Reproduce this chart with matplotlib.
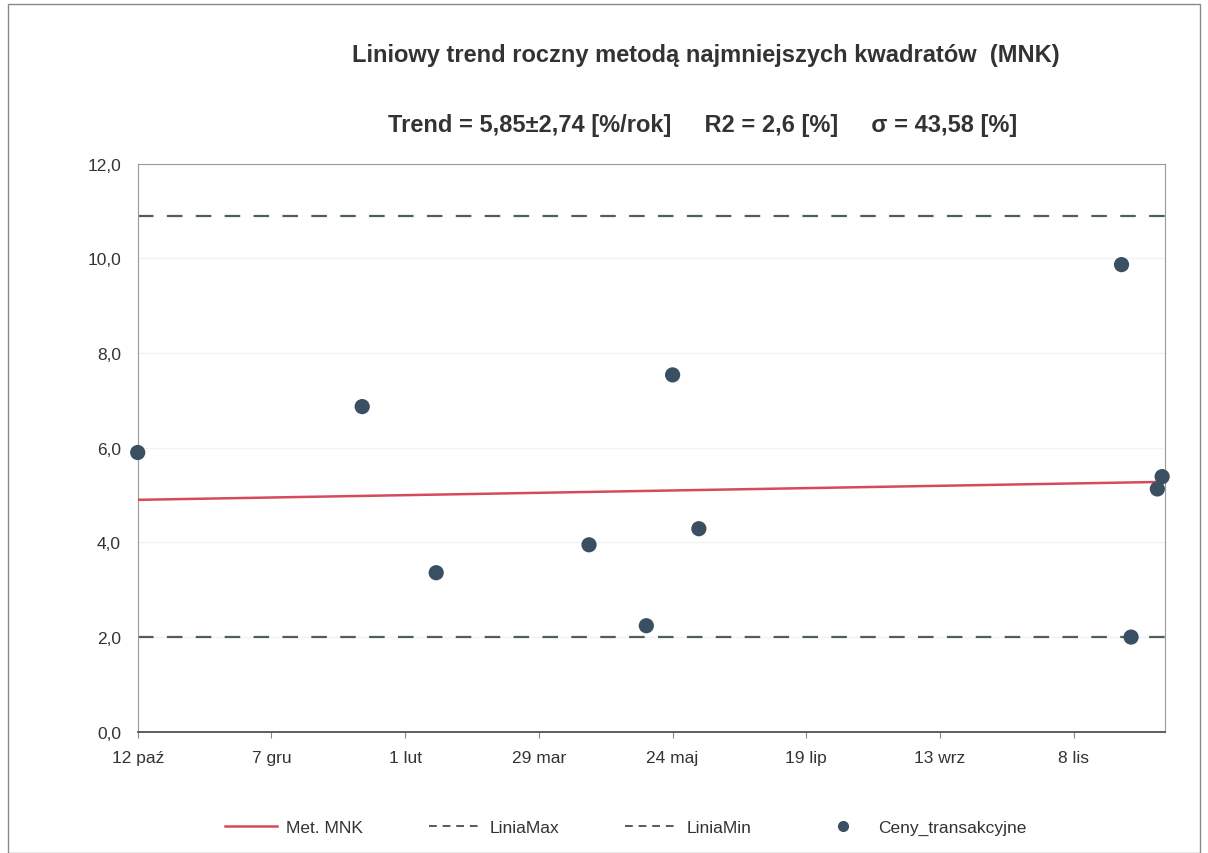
import matplotlib
matplotlib.use("Agg")
import matplotlib.pyplot as plt
import matplotlib.dates as mdates
from matplotlib.lines import Line2D
from matplotlib.patches import Rectangle
import numpy as np

plt.rcParams["font.family"] = ["Liberation Sans Narrow", "Liberation Sans", "DejaVu Sans"]

# ---- data ------------------------------------------------------------
price_dates = ["2012-10-12", "2013-01-14", "2013-02-14", "2013-04-19",
               "2013-05-13", "2013-05-24", "2013-06-04", "2013-11-28",
               "2013-12-02", "2013-12-13", "2013-12-15"]
price_values = [5.9, 6.87, 3.36, 3.95, 2.24, 7.54, 4.29, 9.87, 2.0, 5.13, 5.39]

trend_dates = ["2012-10-12", "2013-12-16"]
trend_values = [4.90, 5.28]

linia_max = 10.9
linia_min = 2.0

tick_dates = ["2012-10-12", "2012-12-07", "2013-02-01", "2013-03-29",
              "2013-05-24", "2013-07-19", "2013-09-13", "2013-11-08"]
tick_labels = ["12 paź", "7 gru", "1 lut", "29 mar",
               "24 maj", "19 lip", "13 wrz", "8 lis"]

x_start, x_end = "2012-10-12", "2013-12-16"

title = "Liniowy trend roczny metodą najmniejszych kwadratów  (MNK)"
subtitle = "Trend = 5,85±2,74 [%/rok]     R2 = 2,6 [%]     σ = 43,58 [%]"

# ---- colours ---------------------------------------------------------
RED = "#d64a5c"
DASH = "#4f5f55"
DOT = "#3b4f63"
TEXT = "#333333"

to_num = lambda ds: mdates.datestr2num(ds)

fig = plt.figure(figsize=(12.08, 8.54), dpi=100)
ax = fig.add_axes([0.114, 0.142, 0.850, 0.665])

ax.plot(to_num(trend_dates), trend_values, color=RED, lw=1.8, zorder=3)
ax.axhline(linia_max, color=DASH, lw=1.6, ls=(0, (7, 6)), zorder=2)
ax.axhline(linia_min, color=DASH, lw=1.6, ls=(0, (7, 6)), zorder=2)
ax.scatter(to_num(price_dates), price_values, s=120, color=DOT,
           zorder=5, clip_on=False, edgecolors="none")

ax.set_xlim(to_num(x_start), to_num(x_end))
ax.set_ylim(0, 12)
ax.set_xticks(to_num(tick_dates))
ax.set_xticklabels(tick_labels)
ax.set_yticks(np.arange(0, 12.1, 2))
ax.set_yticklabels([f"{v:.1f}".replace(".", ",") for v in np.arange(0, 12.1, 2)])
ax.tick_params(axis="both", labelsize=12.5, colors="#888888", labelcolor=TEXT,
               length=4)
ax.tick_params(axis="x", pad=9)
ax.tick_params(axis="y", length=0, pad=12)
ax.grid(axis="y", color="#f2f2f2", lw=1)
for side in ["top", "right", "left"]:
    ax.spines[side].set_color("#9a9a9a")
ax.spines["bottom"].set_color("#444444")
ax.spines["bottom"].set_linewidth(1.2)

fig.text(0.584, 0.935, title, ha="center", va="center", fontsize=17,
         fontweight="bold", color=TEXT)
fig.text(0.582, 0.853, subtitle, ha="center", va="center", fontsize=17,
         fontweight="bold", color=TEXT)

handles = [
    Line2D([], [], color=RED, lw=1.8),
    Line2D([], [], color=DASH, lw=1.4, ls=(0, (4, 3))),
    Line2D([], [], color=DASH, lw=1.4, ls=(0, (4, 3))),
    Line2D([], [], color=DOT, marker="o", ls="none", markersize=7),
]
fig.legend(handles, ["Met. MNK", "LiniaMax", "LiniaMin", "Ceny_transakcyjne"],
           loc="center", bbox_to_anchor=(0.518, 0.030), ncol=4, frameon=False,
           fontsize=12.5, handlelength=3.0, handletextpad=0.5,
           columnspacing=3.8, labelcolor=TEXT)

fig.add_artist(Rectangle((0.007, 0.0), 0.986, 0.994, transform=fig.transFigure,
                         fill=False, edgecolor="#8a8a8a", lw=1))

fig.savefig("out.png", dpi=100)
